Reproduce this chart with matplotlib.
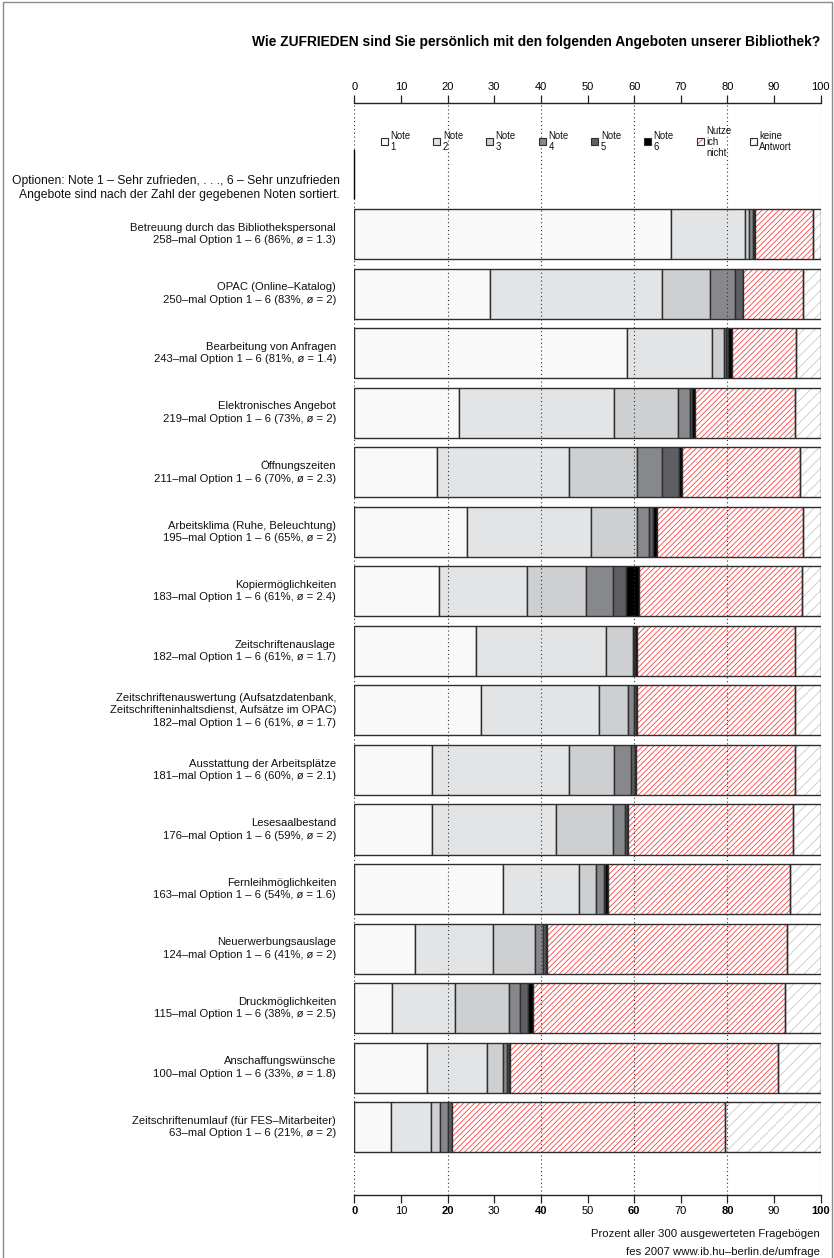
import numpy as np
import matplotlib
matplotlib.use('Agg')
import matplotlib.pyplot as plt
from matplotlib.patches import Rectangle

plt.rcParams['font.family'] = ['Liberation Sans', 'DejaVu Sans']
plt.rcParams['hatch.linewidth'] = 0.55

# angebote, sortiert nach Zahl der gegebenen Noten
offers = ['Betreuung durch das Bibliothekspersonal',
          'OPAC (Online–Katalog)',
          'Bearbeitung von Anfragen',
          'Elektronisches Angebot',
          'Öffnungszeiten',
          'Arbeitsklima (Ruhe, Beleuchtung)',
          'Kopiermöglichkeiten',
          'Zeitschriftenauslage',
          'Zeitschriftenauswertung (Aufsatzdatenbank,\nZeitschrifteninhaltsdienst, Aufsätze im OPAC)',
          'Ausstattung der Arbeitsplätze',
          'Lesesaalbestand',
          'Fernleihmöglichkeiten',
          'Neuerwerbungsauslage',
          'Druckmöglichkeiten',
          'Anschaffungswünsche',
          'Zeitschriftenumlauf (für FES–Mitarbeiter)']
n_given = [258, 250, 243, 219, 211, 195, 183, 182, 182, 181, 176, 163, 124, 115, 100, 63]
pct_given = [86, 83, 81, 73, 70, 65, 61, 61, 61, 60, 59, 54, 41, 38, 33, 21]
mean_grade = [1.3, 2, 1.4, 2, 2.3, 2, 2.4, 1.7, 1.7, 2.1, 2, 1.6, 2, 2.5, 1.8, 2]

# prozent aller fragebögen je antwort
note1 = [68.0, 29.1, 58.4, 22.5, 17.8, 24.1, 18.2, 26.0, 27.1, 16.7, 16.7, 31.9, 13.1, 8.1, 15.5, 7.9]
note2 = [15.7, 36.9, 18.3, 33.2, 28.2, 26.6, 18.9, 27.9, 25.3, 29.3, 26.6, 16.2, 16.7, 13.5, 13.0, 8.6]
note3 = [0.9, 10.3, 2.5, 13.6, 14.6, 9.9, 12.6, 5.9, 6.3, 9.7, 12.2, 3.8, 9.0, 11.5, 3.3, 1.9]
note4 = [0.9, 5.3, 0.4, 2.6, 5.3, 2.6, 5.8, 0.2, 1.3, 3.6, 2.5, 1.7, 1.6, 2.4, 1.0, 1.6]
note5 = [0.3, 1.7, 0.6, 0.4, 3.7, 0.9, 2.8, 0.2, 0.3, 0.8, 0.5, 0.1, 0.6, 1.8, 0.3, 0.9]
note6 = [0.2, 0.0, 0.8, 0.7, 0.7, 0.9, 2.7, 0.5, 0.4, 0.2, 0.2, 0.6, 0.3, 1.0, 0.2, 0.1]
not_used = [12.4, 12.9, 13.6, 21.4, 25.3, 31.2, 35.0, 33.7, 33.7, 34.1, 35.4, 39.1, 51.5, 54.1, 57.6, 58.4]
no_answer = [1.6, 3.8, 5.4, 5.6, 4.4, 3.8, 4.0, 5.6, 5.6, 5.6, 5.9, 6.6, 7.2, 7.6, 9.1, 20.6]

legend_labels = ['Note\n1', 'Note\n2', 'Note\n3', 'Note\n4', 'Note\n5', 'Note\n6',
                 'Nutze\nich\nnicht', 'keine\nAntwort']
ticks = np.arange(0, 101, 10)

segments = [note1, note2, note3, note4, note5, note6, not_used, no_answer]
colors = ['#f9f9f9', '#e3e4e5', '#cecfd0', '#87888b', '#5e5f63', '#000000', 'white', 'white']
hatches = [None, None, None, None, None, None, '//////', '///']
hatch_cols = [None, None, None, None, None, None, '#ff3030', '#c4c4c4']
edge = '#2e2e2e'

W, H = 834, 1258
fig = plt.figure(figsize=(W / 100, H / 100), dpi=100)
ax = fig.add_axes([354.3 / W, 1 - 1195 / H, 466.4 / W, 1092 / H])

y = np.arange(len(offers))
bh = 0.84
left = np.zeros(len(offers))
for vals, col, hat, hcol in zip(segments, colors, hatches, hatch_cols):
    vals = np.array(vals)
    if hat:
        ax.barh(y, vals, left=left, height=bh, color='white', edgecolor=hcol,
                hatch=hat, linewidth=0, zorder=2)
        ax.barh(y, vals, left=left, height=bh, fill=False, edgecolor=edge,
                linewidth=1.0, zorder=3)
    else:
        ax.barh(y, vals, left=left, height=bh, color=col, edgecolor=edge,
                linewidth=1.0, zorder=2)
    left += vals

# gestrichelte hilfslinien
for gx in [0, 20, 40, 60, 80, 100]:
    ax.axvline(gx, color='#333333', lw=0.8, ls=(0, (1, 2.5)), zorder=4)
ax.plot([0, 0], [-1.41, -0.60], color='black', lw=1.0, zorder=5, clip_on=False)

ax.set_xlim(0, 100)
ax.set_ylim(16.138, -2.2)
ax.set_yticks([])
ax.set_xticks(ticks)
ax.set_xticklabels([str(t) for t in ticks])
ax.tick_params(axis='x', top=True, labeltop=True, bottom=True, labelbottom=True,
               direction='out', length=6, width=0.9, labelsize=8, pad=2,
               color='#222222')
for t in ax.xaxis.get_major_ticks():
    if t.get_loc() % 20 == 0:
        t.label1.set_fontweight('bold')
ax.spines['left'].set_visible(False)
ax.spines['right'].set_visible(False)
for s in ['top', 'bottom']:
    ax.spines[s].set_linewidth(1.0)
    ax.spines[s].set_color('#222222')

# beschriftung links
for i, name in enumerate(offers):
    txt = '%s\n%d–mal Option 1 – 6 (%d%%, ø = %g)' % (name, n_given[i], pct_given[i], mean_grade[i])
    ax.text(-3.9, i, txt, ha='right', va='center', fontsize=8.1, linespacing=1.3,
            color='#111111')
ax.text(-3.0, -0.77, 'Optionen: Note 1 – Sehr zufrieden, . . ., 6 – Sehr unzufrieden\n'
        'Angebote sind nach der Zahl der gegebenen Noten sortiert.',
        ha='right', va='center', fontsize=8.7, linespacing=1.25, color='#111111')

# legende
ly = -1.55
sw, sh = 1.5, 0.118
for k, lab in enumerate(legend_labels):
    lx = 6.4 + 11.3 * k
    if hatches[k]:
        ax.add_patch(Rectangle((lx - sw / 2, ly - sh / 2), sw, sh, facecolor='white',
                               edgecolor=hatch_cols[k], hatch='////', lw=0, zorder=5,
                               clip_on=False))
        ax.add_patch(Rectangle((lx - sw / 2, ly - sh / 2), sw, sh, fill=False,
                               edgecolor=edge, lw=0.8, zorder=6, clip_on=False))
    else:
        ax.add_patch(Rectangle((lx - sw / 2, ly - sh / 2), sw, sh, facecolor=colors[k],
                               edgecolor=edge, lw=0.8, zorder=5, clip_on=False))
    ax.text(lx + 1.3, ly, lab, ha='left', va='center', fontsize=6.9, linespacing=1.15,
            color='#111111', zorder=6)

fig.text(820 / W, 1 - 42 / H,
         'Wie ZUFRIEDEN sind Sie persönlich mit den folgenden Angeboten unserer Bibliothek?',
         ha='right', va='center', fontsize=9.9, fontweight='bold')
fig.text(820 / W, 1 - 1234 / H, 'Prozent aller 300 ausgewerteten Fragebögen',
         ha='right', va='center', fontsize=8.2, color='#111111')
fig.text(820 / W, 1 - 1252 / H, 'fes 2007 www.ib.hu–berlin.de/umfrage',
         ha='right', va='center', fontsize=8.2, color='#111111')

# rahmen der seite
fig.patches.append(Rectangle((3 / W, -10 / H), 829 / W, (H + 8) / H,
                             transform=fig.transFigure, fill=False,
                             edgecolor='#8a8a8a', lw=1.0))

plt.savefig('out.png', dpi=100)
